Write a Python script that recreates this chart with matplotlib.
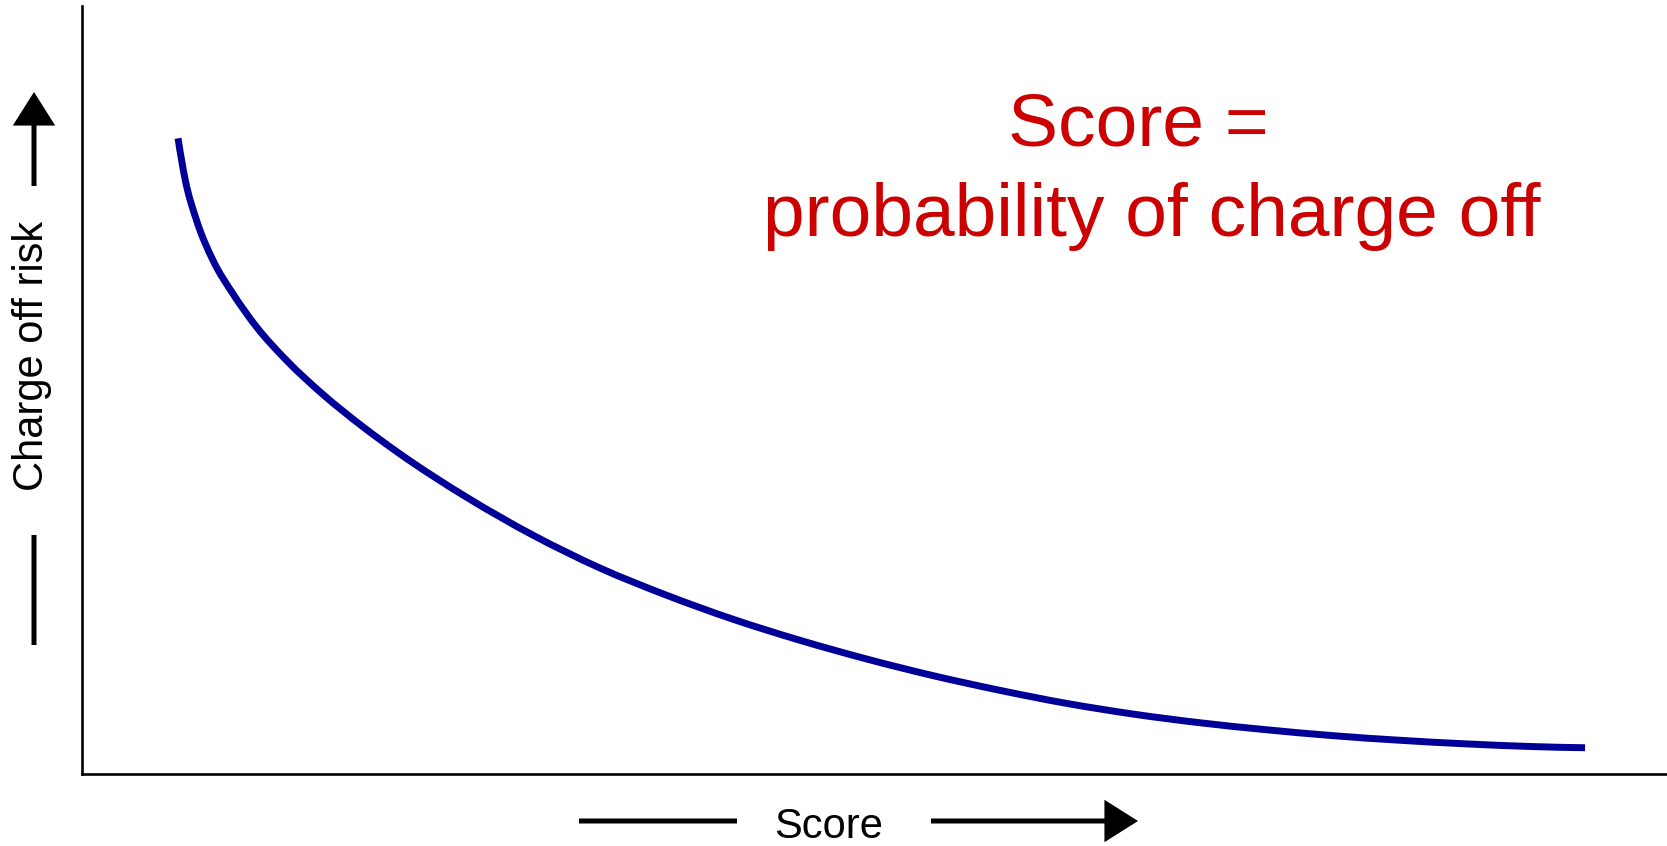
import matplotlib
matplotlib.use("Agg")
import matplotlib.pyplot as plt
from matplotlib.path import Path
from matplotlib.patches import PathPatch

# Data (score on x, charge-off risk on y, arbitrary units 0-100)
score = [6.06, 6.50, 7.24, 8.28, 9.53, 11.02, 12.92, 15.21, 17.73, 20.06, 24.27,
         28.47, 32.68, 36.89, 41.09, 45.30, 49.51, 53.71, 57.92, 62.13, 66.33,
         70.54, 74.74, 78.95, 83.16, 87.36, 91.57, 94.83]
risk = [82.77, 77.49, 72.01, 66.82, 62.51, 58.19, 53.82, 49.41, 45.20, 41.68, 36.03,
        31.08, 26.82, 23.27, 20.14, 17.41, 14.97, 12.80, 10.89, 9.19, 7.80,
        6.67, 5.76, 4.99, 4.39, 3.92, 3.57, 3.42]

x_label = "Score"
y_label = "Charge off risk"
note_line1 = "Score ="
note_line2 = "probability of charge off"

W, H = 1667, 846
fig = plt.figure(figsize=(W / 100, H / 100), dpi=100)
ax = fig.add_axes([82 / W, 72 / H, (W - 82) / W, 768 / H])

# smooth curve through the read points (cubic Hermite drawn as Bezier path)
n = len(score)
h = [score[i + 1] - score[i] for i in range(n - 1)]
d = [(risk[i + 1] - risk[i]) / h[i] for i in range(n - 1)]
m = [0.0] * n
for i in range(1, n - 1):
    m[i] = (h[i] * d[i - 1] + h[i - 1] * d[i]) / (h[i - 1] + h[i])
m[0] = ((2 * h[0] + h[1]) * d[0] - h[0] * d[1]) / (h[0] + h[1])
m[-1] = ((2 * h[-1] + h[-2]) * d[-1] - h[-1] * d[-2]) / (h[-1] + h[-2])
verts = [(score[0], risk[0])]
codes = [Path.MOVETO]
for i in range(n - 1):
    c1 = (score[i] + h[i] / 3, risk[i] + m[i] * h[i] / 3)
    c2 = (score[i + 1] - h[i] / 3, risk[i + 1] - m[i + 1] * h[i] / 3)
    verts += [c1, c2, (score[i + 1], risk[i + 1])]
    codes += [Path.CURVE4] * 3
curve = PathPatch(Path(verts, codes), fill=False, edgecolor="#000099",
                  linewidth=5.0, capstyle="butt", joinstyle="round",
                  transform=ax.transData)
ax.add_patch(curve)

ax.set_xlim(0, 100)
ax.set_ylim(0, 100)
ax.set_xticks([])
ax.set_yticks([])
for s in ("top", "right"):
    ax.spines[s].set_visible(False)
for s in ("left", "bottom"):
    ax.spines[s].set_linewidth(1.9)
    ax.spines[s].set_color("black")

font = "Liberation Sans"
head = "-|>,head_length=0.95,head_width=0.6"

# y axis label with arrow
fig.text(32 / W, (H - 356) / H, y_label, rotation=90, ha="center", va="center",
         fontsize=30, family=font, color="black")
ax.annotate("", xy=(34, H - 92), xytext=(34, H - 186), xycoords="figure pixels",
            textcoords="figure pixels",
            arrowprops=dict(arrowstyle=head, mutation_scale=20, lw=3.6,
                            color="black", shrinkA=0, shrinkB=0,
                            joinstyle="miter", capstyle="butt"))
ax.annotate("", xy=(34, H - 645), xytext=(34, H - 535), xycoords="figure pixels",
            textcoords="figure pixels",
            arrowprops=dict(arrowstyle="-", lw=3.6, color="black",
                            shrinkA=0, shrinkB=0, capstyle="butt"))

# x axis label with arrow
fig.text(829 / W, (H - 827) / H, x_label, ha="center", va="center",
         fontsize=30, family=font, color="black")
ax.annotate("", xy=(737, H - 821), xytext=(579, H - 821), xycoords="figure pixels",
            textcoords="figure pixels",
            arrowprops=dict(arrowstyle="-", lw=3.6, color="black",
                            shrinkA=0, shrinkB=0, capstyle="butt"))
ax.annotate("", xy=(1138, H - 821), xytext=(931, H - 821), xycoords="figure pixels",
            textcoords="figure pixels",
            arrowprops=dict(arrowstyle=head, mutation_scale=20, lw=3.6,
                            color="black", shrinkA=0, shrinkB=0,
                            joinstyle="miter", capstyle="butt"))

# red annotation
fig.text(1138 / W, (H - 146) / H, note_line1, ha="center", va="baseline",
         fontsize=54, family=font, color="#cc0000")
fig.text(1152 / W, (H - 236) / H, note_line2, ha="center", va="baseline",
         fontsize=54, family=font, color="#cc0000")

fig.savefig("out.png", dpi=100, facecolor="white")
